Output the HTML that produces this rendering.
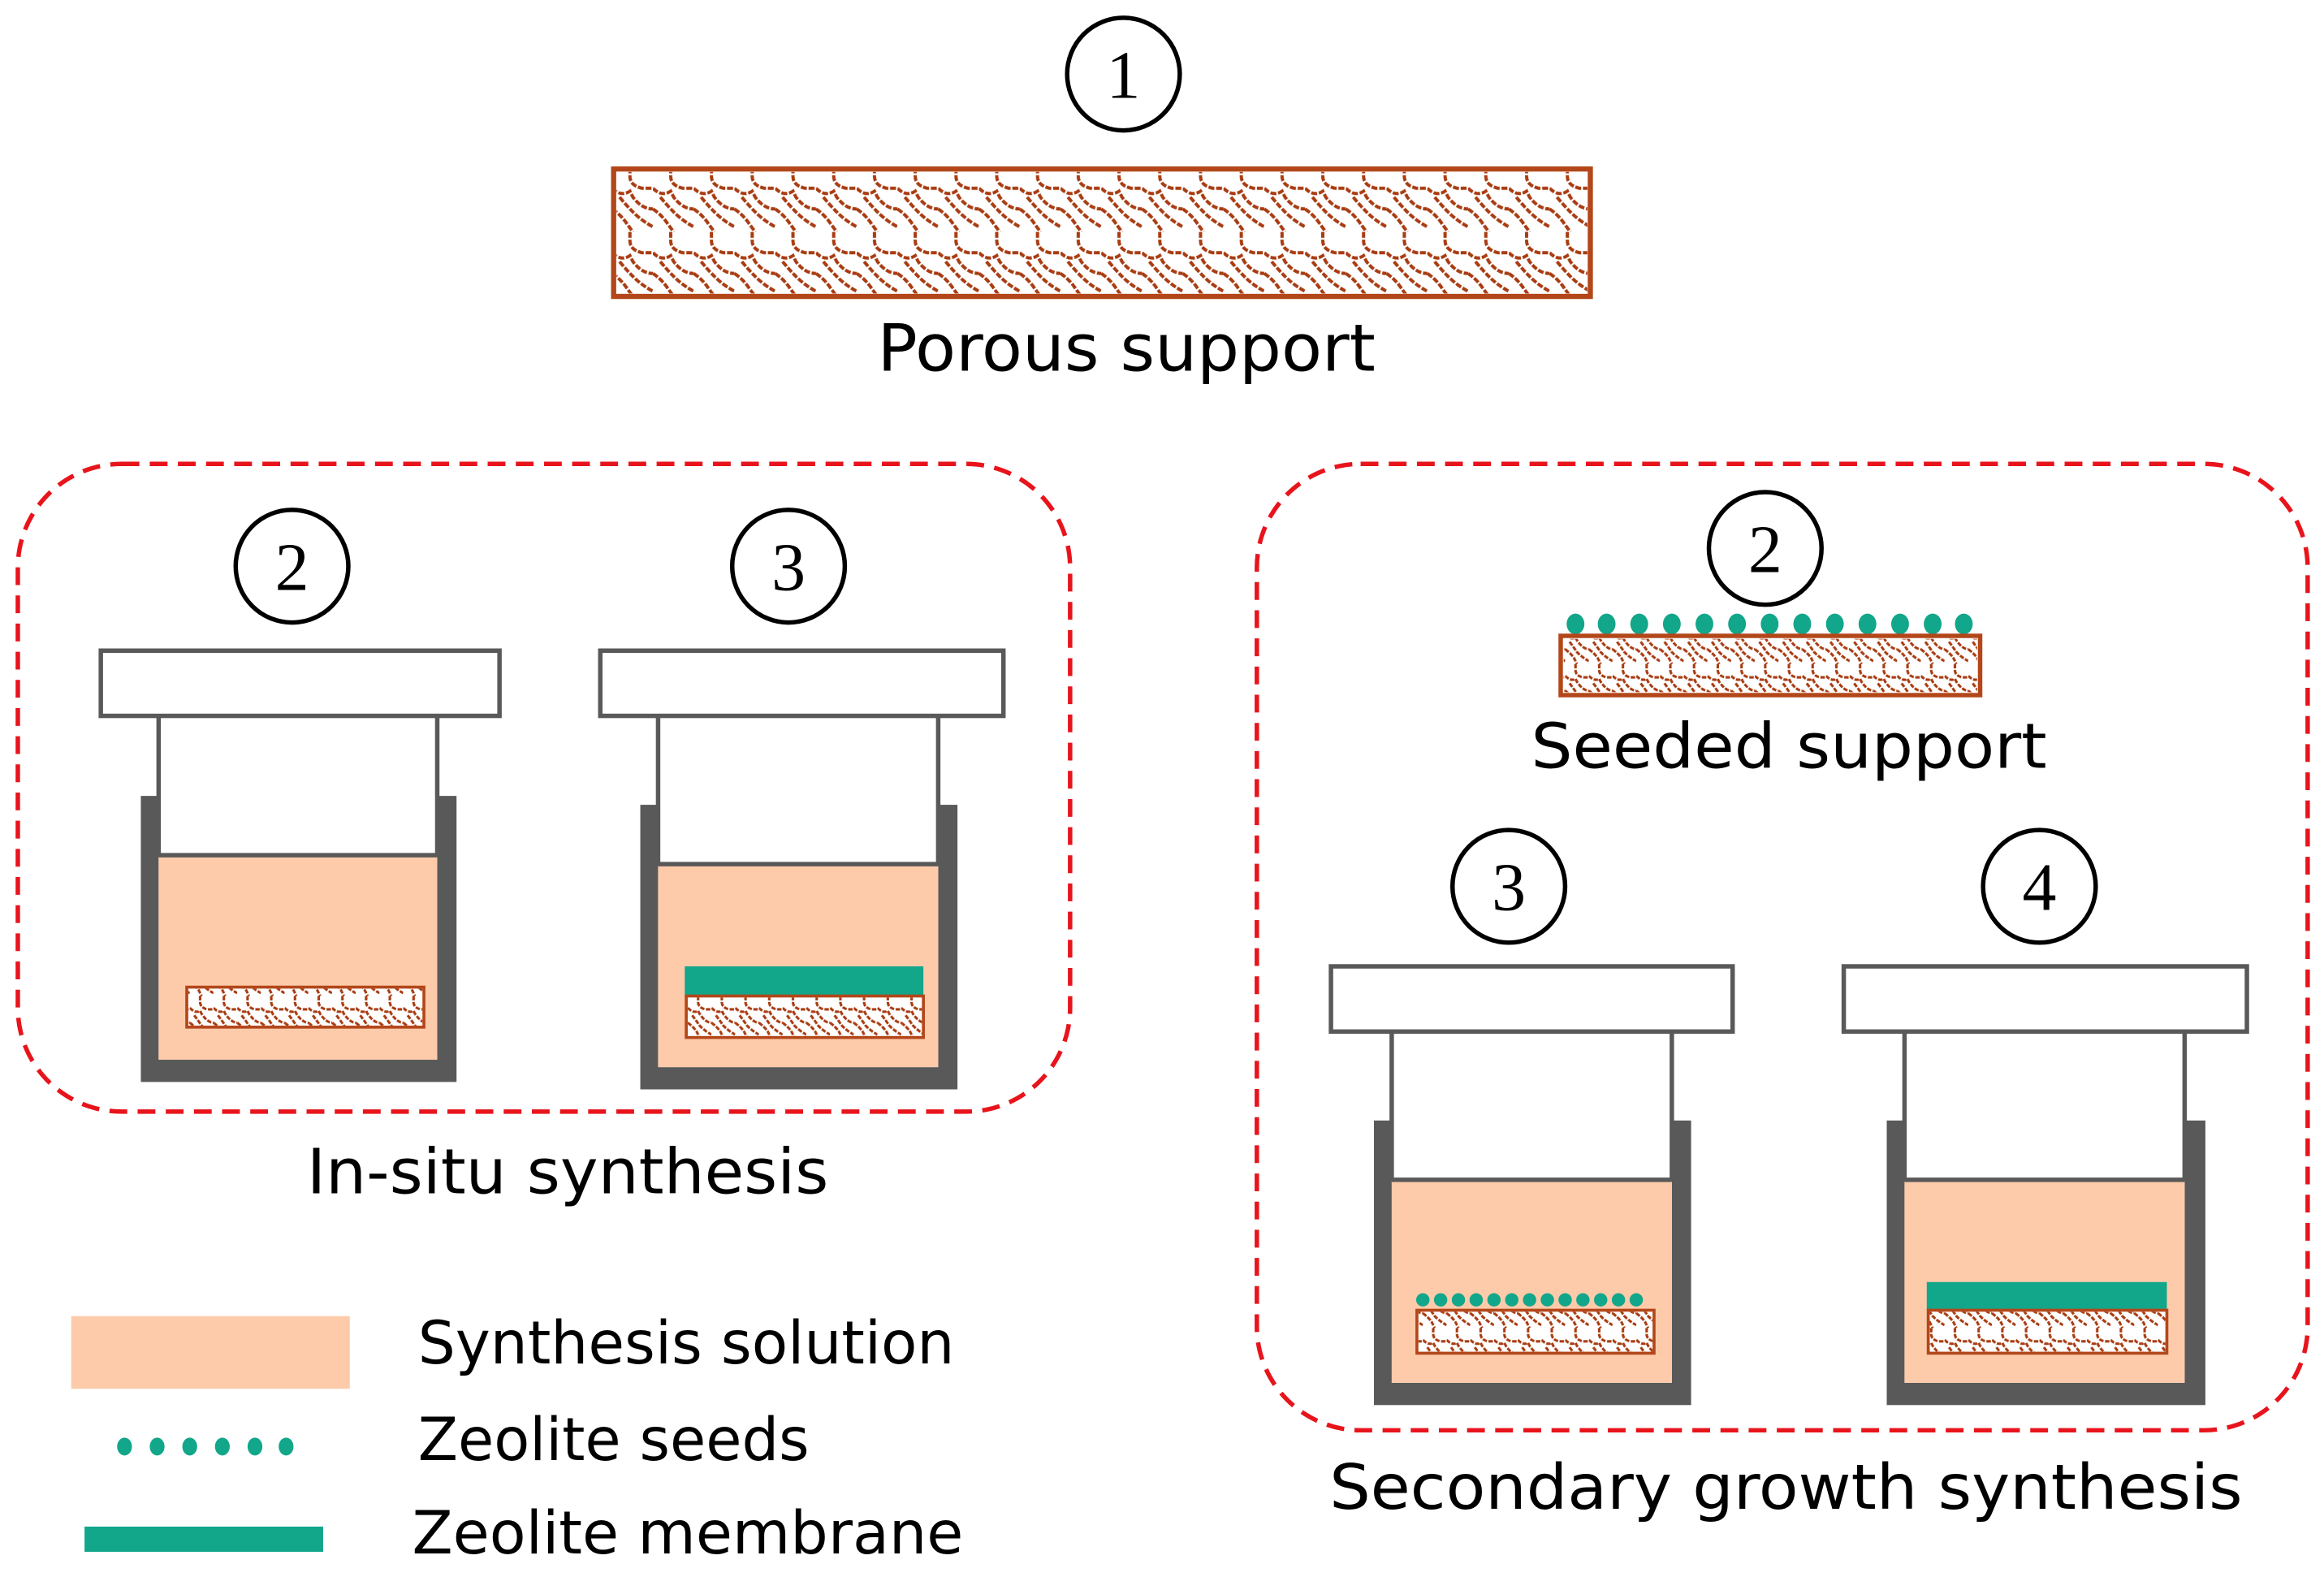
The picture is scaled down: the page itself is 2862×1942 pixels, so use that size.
<!DOCTYPE html>
<html><head><meta charset="utf-8"><style>html,body{margin:0;padding:0;background:#fff}svg{display:block}</style></head>
<body>
<svg width="2862" height="1942" viewBox="0 0 1568 1064" xmlns="http://www.w3.org/2000/svg" font-family="'DejaVu Sans','Liberation Sans',sans-serif">
<defs>
<pattern id="pb" patternUnits="userSpaceOnUse" x="413" y="113" width="27.5" height="43.5">
<path d="M0,14 Q6,20 12,16 L14,20 Q20,28 27.5,28 M12,0 L12,6 Q12,12 20,14 L27.5,14 M0,28 Q6,32 10,38 L14,43.5 M5,20 Q10,26 14,30 Q20,36 27.5,40" fill="none" stroke="#a93c12" stroke-width="2.2" stroke-dasharray="4 1.2"/>
</pattern>
<pattern id="ps" patternUnits="userSpaceOnUse" width="16" height="28">
<path d="M0,8 Q4,12 7,10 L8,12 Q12,18 16,18 M7,0 L7,4 Q7,8 12,9 L16,9 M0,18 Q4,21 6,24 L8,28 M3,13 Q6,17 8,20 Q12,24 16,26" fill="none" stroke="#a93c12" stroke-width="1.7" stroke-dasharray="3 1"/>
</pattern>
</defs>

<circle cx="758" cy="50" r="38" fill="#fff" stroke="#000" stroke-width="3"/>
<text x="758" y="66" font-family="'Liberation Serif',serif" font-size="46" text-anchor="middle">1</text>
<rect x="414" y="114" width="659" height="86" fill="#fff" stroke="#b3471a" stroke-width="3.5"/>
<rect x="416" y="116" width="655" height="82" fill="url(#pb)"/>
<text x="760" y="250" font-size="44" text-anchor="middle" textLength="336" lengthAdjust="spacingAndGlyphs">Porous support</text>

<rect x="12" y="313" width="710" height="437" rx="70" fill="none" stroke="#e8141c" stroke-width="3" stroke-dasharray="12 7"/>
<rect x="848" y="313" width="709" height="652" rx="70" fill="none" stroke="#e8141c" stroke-width="3" stroke-dasharray="12 7"/>

<g fill="#fff" stroke="#000" stroke-width="3">
<circle cx="197" cy="382" r="38"/><circle cx="532" cy="382" r="38"/>
<circle cx="1191" cy="370" r="38"/><circle cx="1018" cy="598" r="38"/><circle cx="1376" cy="598" r="38"/>
</g>
<g font-family="'Liberation Serif',serif" font-size="46" text-anchor="middle">
<text x="197" y="398">2</text><text x="532" y="398">3</text>
<text x="1191" y="386">2</text><text x="1018" y="614">3</text><text x="1376" y="614">4</text>
</g>

<g>
<rect x="95" y="537" width="213" height="193" fill="#595959"/>
<rect x="107" y="483" width="188" height="232" fill="#fff"/>
<rect x="107" y="577" width="188" height="138" fill="#fdcbaa"/>
<line x1="107" y1="577" x2="295" y2="577" stroke="#595959" stroke-width="3"/>
<line x1="107" y1="483" x2="107" y2="578" stroke="#595959" stroke-width="3"/>
<line x1="295" y1="483" x2="295" y2="578" stroke="#595959" stroke-width="3"/>
<rect x="68" y="439" width="269" height="44" fill="#fff" stroke="#595959" stroke-width="3"/>
<rect x="126" y="666" width="160" height="27" fill="#fff" stroke="#b3471a" stroke-width="2"/>
<rect x="127" y="667" width="158" height="25" fill="url(#ps)"/>
</g>
<g>
<rect x="432" y="543" width="214" height="192" fill="#595959"/>
<rect x="444" y="483" width="189" height="237" fill="#fff"/>
<rect x="444" y="583" width="189" height="137" fill="#fdcbaa"/>
<line x1="444" y1="583" x2="633" y2="583" stroke="#595959" stroke-width="3"/>
<line x1="444" y1="483" x2="444" y2="584" stroke="#595959" stroke-width="3"/>
<line x1="633" y1="483" x2="633" y2="584" stroke="#595959" stroke-width="3"/>
<rect x="405" y="439" width="272" height="44" fill="#fff" stroke="#595959" stroke-width="3"/>
<rect x="462" y="652" width="161" height="20" fill="#12a68a"/>
<rect x="463" y="672" width="160" height="28" fill="#fff" stroke="#b3471a" stroke-width="2"/>
<rect x="464" y="673" width="158" height="26" fill="url(#ps)"/>
</g>
<text x="383" y="805" font-size="42" text-anchor="middle" textLength="352" lengthAdjust="spacingAndGlyphs">In-situ synthesis</text>

<g fill="#12a68a">
<ellipse cx="1063" cy="421" rx="6" ry="7"/><ellipse cx="1084" cy="421" rx="6" ry="7"/><ellipse cx="1106" cy="421" rx="6" ry="7"/><ellipse cx="1128" cy="421" rx="6" ry="7"/><ellipse cx="1150" cy="421" rx="6" ry="7"/><ellipse cx="1172" cy="421" rx="6" ry="7"/><ellipse cx="1194" cy="421" rx="6" ry="7"/><ellipse cx="1216" cy="421" rx="6" ry="7"/><ellipse cx="1238" cy="421" rx="6" ry="7"/><ellipse cx="1260" cy="421" rx="6" ry="7"/><ellipse cx="1282" cy="421" rx="6" ry="7"/><ellipse cx="1304" cy="421" rx="6" ry="7"/><ellipse cx="1325" cy="421" rx="6" ry="7"/>
</g>
<rect x="1053" y="429" width="283" height="40" fill="#fff" stroke="#b3471a" stroke-width="3"/>
<rect x="1055" y="431" width="279" height="36" fill="url(#ps)"/>
<text x="1207" y="518" font-size="42" text-anchor="middle" textLength="348" lengthAdjust="spacingAndGlyphs">Seeded support</text>

<g>
<rect x="927" y="756" width="214" height="192" fill="#595959"/>
<rect x="939" y="696" width="189" height="237" fill="#fff"/>
<rect x="939" y="796" width="189" height="137" fill="#fdcbaa"/>
<line x1="939" y1="796" x2="1128" y2="796" stroke="#595959" stroke-width="3"/>
<line x1="939" y1="696" x2="939" y2="797" stroke="#595959" stroke-width="3"/>
<line x1="1128" y1="696" x2="1128" y2="797" stroke="#595959" stroke-width="3"/>
<rect x="898" y="652" width="271" height="44" fill="#fff" stroke="#595959" stroke-width="3"/>
<g fill="#12a68a">
<circle cx="960" cy="877" r="4.5"/><circle cx="972" cy="877" r="4.5"/><circle cx="984" cy="877" r="4.5"/><circle cx="996" cy="877" r="4.5"/><circle cx="1008" cy="877" r="4.5"/><circle cx="1020" cy="877" r="4.5"/><circle cx="1032" cy="877" r="4.5"/><circle cx="1044" cy="877" r="4.5"/><circle cx="1056" cy="877" r="4.5"/><circle cx="1068" cy="877" r="4.5"/><circle cx="1080" cy="877" r="4.5"/><circle cx="1092" cy="877" r="4.5"/><circle cx="1104" cy="877" r="4.5"/>
</g>
<rect x="956" y="884" width="160" height="29" fill="#fff" stroke="#b3471a" stroke-width="2"/>
<rect x="957" y="885" width="158" height="27" fill="url(#ps)"/>
</g>
<g>
<rect x="1273" y="756" width="215" height="192" fill="#595959"/>
<rect x="1285" y="696" width="189" height="237" fill="#fff"/>
<rect x="1285" y="796" width="189" height="137" fill="#fdcbaa"/>
<line x1="1285" y1="796" x2="1474" y2="796" stroke="#595959" stroke-width="3"/>
<line x1="1285" y1="696" x2="1285" y2="797" stroke="#595959" stroke-width="3"/>
<line x1="1474" y1="696" x2="1474" y2="797" stroke="#595959" stroke-width="3"/>
<rect x="1244" y="652" width="272" height="44" fill="#fff" stroke="#595959" stroke-width="3"/>
<rect x="1300" y="865" width="162" height="19" fill="#12a68a"/>
<rect x="1301" y="884" width="161" height="29" fill="#fff" stroke="#b3471a" stroke-width="2"/>
<rect x="1302" y="885" width="159" height="27" fill="url(#ps)"/>
</g>
<text x="1205" y="1018" font-size="42" text-anchor="middle" textLength="616" lengthAdjust="spacingAndGlyphs">Secondary growth synthesis</text>

<rect x="48" y="888" width="188" height="49" fill="#fdcbaa"/>
<g fill="#12a68a">
<ellipse cx="84" cy="976" rx="5" ry="6"/><ellipse cx="106" cy="976" rx="5" ry="6"/><ellipse cx="128" cy="976" rx="5" ry="6"/><ellipse cx="150" cy="976" rx="5" ry="6"/><ellipse cx="172" cy="976" rx="5" ry="6"/><ellipse cx="193" cy="976" rx="5" ry="6"/>
</g>
<rect x="57" y="1030" width="161" height="17" fill="#12a68a"/>
<g font-size="40">
<text x="282" y="920" textLength="362" lengthAdjust="spacingAndGlyphs">Synthesis solution</text>
<text x="282" y="985" textLength="264" lengthAdjust="spacingAndGlyphs">Zeolite seeds</text>
<text x="278" y="1048" textLength="372" lengthAdjust="spacingAndGlyphs">Zeolite membrane</text>
</g>
</svg>
</body></html>
